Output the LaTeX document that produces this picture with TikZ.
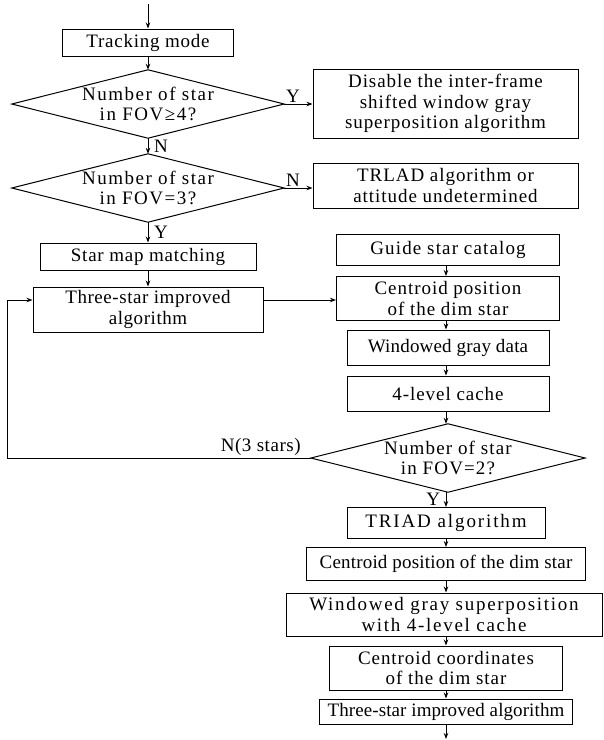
\documentclass[tikz,border=0pt]{standalone}
\usepackage{fontspec}
\setmainfont{Liberation Serif}
\usetikzlibrary{arrows.meta}
\begin{document}
\begin{tikzpicture}[x=1pt,y=-1pt,
  txt/.style={font=\fontsize{19}{20.5}\selectfont\addfontfeatures{LetterSpace=#1}},
  txt/.default=5,
  box/.style={txt, draw, line width=1pt, align=center, inner sep=0pt},
  dmd/.style={txt=8, align=center, inner sep=0pt},
  edge/.style={line width=1pt},
  arr/.style={line width=1pt, -{Stealth[length=6pt,width=4.5pt]}},
  lbl/.style={txt=3, inner sep=1.5pt}]
\useasboundingbox (0,0) rectangle (604,740);
% left column
\coordinate (top) at (148,4);
\node[box, txt=4, minimum width=171, minimum height=27] (track) at (148,42.5) {Tracking mode};
\node[dmd, minimum width=272, minimum height=68] (d1) at (148,104) {Number of star\\in FOV≥4?};
\draw[edge] (d1.north) -- (d1.east) -- (d1.south) -- (d1.west) -- cycle;
\node[box, minimum width=265, minimum height=69] (dis) at (445.5,103.5) {Disable the inter-frame\\shifted window gray\\superposition algorithm};
\node[dmd, minimum width=272, minimum height=68] (d2) at (148,188) {Number of star\\in FOV=3?};
\draw[edge] (d2.north) -- (d2.east) -- (d2.south) -- (d2.west) -- cycle;
\node[box, minimum width=265, minimum height=45] (trl) at (445.5,185.5) {TRLAD algorithm or\\attitude undetermined};
\node[box, txt=4, minimum width=216, minimum height=27] (sm) at (148,256.5) {Star map matching};
\node[box, txt=3, minimum width=230, minimum height=45] (ts) at (148,309.5) {Three-star improved\\algorithm};
% right column
\coordinate (ax) at (446,0);
\node[box, txt=6, minimum width=223, minimum height=31] (guide) at (448,249.5) {Guide star catalog};
\node[box, minimum width=223, minimum height=44] (cdim) at (448,298.5) {Centroid position\\of the dim star};
\node[box, txt=1, minimum width=202, minimum height=35] (wgd) at (448,347.5) {Windowed gray data};
\node[box, minimum width=202, minimum height=35] (c4) at (448,393.5) {4-level cache};
\node[dmd, txt=6, minimum width=274, minimum height=68] (d3) at (448,458) {Number of star\\in FOV=2?};
\draw[edge] (d3.north) -- (d3.east) -- (d3.south) -- (d3.west) -- cycle;
\node[box, txt=10, minimum width=198, minimum height=31] (triad) at (446,523) {TRIAD algorithm};
\node[box, txt=1, minimum width=279, minimum height=33] (cpos) at (446,564) {Centroid position of the dim star};
\node[box, txt=9, minimum width=316, minimum height=43] (wsup) at (444,614.5) {Windowed gray superposition\\with 4-level cache};
\node[box, minimum width=233, minimum height=44] (ccoord) at (446,668) {Centroid coordinates\\of the dim star};
\node[box, txt=0.5, minimum width=253, minimum height=25] (tsf) at (446,711.5) {Three-star improved algorithm};
\coordinate (end) at (446,739);
\coordinate (lx) at (7,300);
% connectors
\draw[arr] (top) -- (track);
\draw[arr] (track) -- (d1.north);
\draw[arr] (d1.east) node[lbl, anchor=south west] {Y} -- (d1.east -| dis.west);
\draw[arr] (d1.south) -- node[lbl, right, xshift=4pt] {N} (d2.north);
\draw[arr] (d2.east) node[lbl, anchor=south west] {N} -- (d2.east -| trl.west);
\draw[arr] (d2.south) -- node[lbl, right, xshift=4pt] {Y} (sm);
\draw[arr] (sm) -- (ts);
\draw[arr] (ts.east |- lx) -- (cdim.west |- lx);
\draw[arr] (guide.south -| ax) -- (cdim.north -| ax);
\draw[arr] (cdim.south -| ax) -- (wgd.north -| ax);
\draw[arr] (wgd.south -| ax) -- (c4.north -| ax);
\draw[arr] (c4.south -| ax) -- (d3.north -| ax);
\draw[arr] (d3.west) node[lbl, anchor=south east, xshift=-8pt] {N(3 stars)} -| (lx) -- (ts.west |- lx);
\draw[arr] (d3.south -| ax) -- node[lbl, left, xshift=-4pt] {Y} (triad.north -| ax);
\draw[arr] (triad.south -| ax) -- (cpos.north -| ax);
\draw[arr] (cpos.south -| ax) -- (wsup.north -| ax);
\draw[arr] (wsup.south -| ax) -- (ccoord.north -| ax);
\draw[arr] (ccoord.south -| ax) -- (tsf.north -| ax);
\draw[arr] (tsf.south -| ax) -- (end);
\end{tikzpicture}
\end{document}
